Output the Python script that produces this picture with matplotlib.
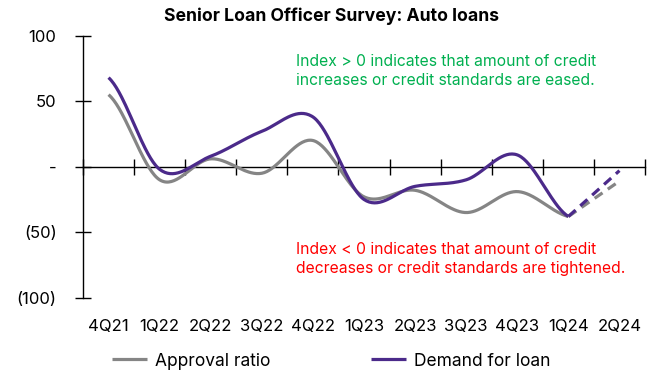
import numpy as np
import matplotlib.pyplot as plt

plt.rcParams['font.family'] = ['Inter', 'DejaVu Sans']

# data
quarters = ['4Q21', '1Q22', '2Q22', '3Q22', '4Q22', '1Q23',
            '2Q23', '3Q23', '4Q23', '1Q24', '2Q24']
approval = [55, -10, 6, -5, 20, -23, -18, -35, -19, -38]
demand = [68, -2, 8, 27, 38, -25, -15, -10, 9, -38]
# 1Q24 -> 2Q24 (dashed)
approval_next = [-38, -11]
demand_next = [-38, -3]

y_ticks = [-100, -50, 0, 50, 100]
y_labels = ['(100)', '(50)', '-', '50', '100']

GRAY = '#858585'
PURPLE = '#4B2A8A'


def smooth(y, n=40):
    # Excel-style smoothed line (Catmull-Rom through the points)
    y = np.asarray(y, dtype=float)
    p = np.concatenate([[y[0]], y, [y[-1]]])
    xs, ys = [], []
    t = np.linspace(0, 1, n)
    for i in range(len(y) - 1):
        p0, p1, p2, p3 = p[i], p[i + 1], p[i + 2], p[i + 3]
        b1 = p1 + (p2 - p0) / 6
        b2 = p2 - (p3 - p1) / 6
        seg = ((1 - t) ** 3 * p1 + 3 * (1 - t) ** 2 * t * b1
               + 3 * (1 - t) * t ** 2 * b2 + t ** 3 * p2)
        xs.append(i + t)
        ys.append(seg)
    return np.concatenate(xs), np.concatenate(ys)


fig = plt.figure(figsize=(6.64, 3.80), dpi=100)
ax = fig.add_axes([0.125, 0.2166, 0.8464, 0.6894])

x_a, y_a = smooth(approval)
x_d, y_d = smooth(demand)
ax.plot(x_a, y_a, color=GRAY, lw=2.3, label='Approval ratio', solid_capstyle='butt')
ax.plot(x_d, y_d, color=PURPLE, lw=2.3, label='Demand for loan', solid_capstyle='butt')

n = len(approval)
ax.plot([n - 1, n], approval_next, color=GRAY, lw=2.3, dashes=(3, 2))
ax.plot([n - 1, n], demand_next, color=PURPLE, lw=2.3, dashes=(3, 2))

ax.set_xlim(-0.5, len(quarters) - 0.5)
ax.set_ylim(-100, 100)

for s in ['top', 'right', 'bottom']:
    ax.spines[s].set_visible(False)
ax.spines['left'].set_linewidth(1.0)

ax.set_yticks(y_ticks)
ax.set_yticklabels(y_labels)
ax.tick_params(axis='y', direction='inout', length=12, width=1.0,
               pad=13, labelsize=12, colors='black')

ax.set_xticks(range(len(quarters)))
ax.set_xticklabels(quarters)
ax.tick_params(axis='x', length=0, pad=15, labelsize=12)

# zero line with category boundary ticks
sec = ax.secondary_xaxis(0.5)
sec.set_xticks(np.arange(len(quarters) + 1) - 0.5)
sec.tick_params(direction='inout', length=12, width=1.0,
                labeltop=False, labelbottom=False)
for s in sec.spines.values():
    s.set_linewidth(1.0)

fig.text(0.5, 0.958, 'Senior Loan Officer Survey: Auto loans',
         ha='center', va='center', fontsize=12.7, fontweight='bold')

fig.text(296 / 664, 1 - 71 / 380,
         'Index > 0 indicates that amount of credit\nincreases or credit standards are eased.',
         color='#00B050', fontsize=11.3, ha='left', va='center', linespacing=1.35)
fig.text(296 / 664, 1 - 259 / 380,
         'Index < 0 indicates that amount of credit\ndecreases or credit standards are tightened.',
         color='#FF0000', fontsize=11.3, ha='left', va='center', linespacing=1.35)

fig.legend(loc='center', bbox_to_anchor=(0.499, 0.05), ncol=2, frameon=False,
           fontsize=12.5, handlelength=2.0, handletextpad=0.46, columnspacing=5.8)

fig.savefig('out.png', dpi=100)
